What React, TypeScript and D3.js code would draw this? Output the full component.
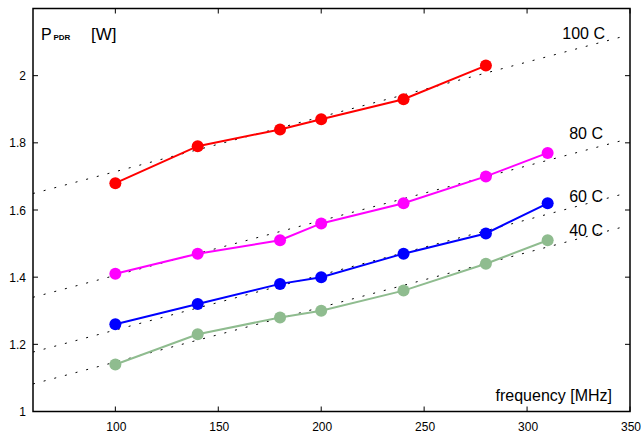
import React from "react";
import * as d3 from "d3";

const freqs = [100, 140, 180, 200, 240, 280, 310];
const seriesNames = ["100 C", "80 C", "60 C", "40 C"];
const seriesColors = ["#ff0000", "#ff00ff", "#0000ff", "#8fbc8f"];
const p100 = [1.68, 1.79, 1.84, 1.87, 1.93, 2.03];
const p80 = [1.41, 1.47, 1.51, 1.56, 1.62, 1.70, 1.77];
const p60 = [1.26, 1.32, 1.38, 1.40, 1.47, 1.53, 1.62];
const p40 = [1.14, 1.23, 1.28, 1.30, 1.36, 1.44, 1.51];
const fitFreqs = [60, 345];
const fit100 = [1.649, 2.114];
const fit80 = [1.340, 1.805];
const fit60 = [1.177, 1.645];
const fit40 = [1.082, 1.547];
const xTicks = [100, 150, 200, 250, 300, 350];
const yTicks = [1, 1.2, 1.4, 1.6, 1.8, 2];

const W = 641, H = 436;
const L = 33, R = 630, T = 8.5, B = 411.5;
const FONT = "'Liberation Sans', Arial, Helvetica, sans-serif";

export default function App() {
  const x = d3.scaleLinear().domain([60, 350]).range([L, R]);
  const y = d3.scaleLinear().domain([1, 2.2]).range([B, T]);
  const series = [p100, p80, p60, p40];
  const fits = [fit100, fit80, fit60, fit40];
  const line = d3.line<[number, number]>().x(d => x(d[0])).y(d => y(d[1]));
  const labelY = [2.11, 1.81, 1.625, 1.523];
  const labelX = [605, 603, 603, 603];

  return (
    <svg width={W} height={H} style={{ position: "absolute", left: 0, top: 0, background: "#fff" }} fontFamily={FONT}>
      <rect x={0} y={0} width={W} height={H} fill="#fff" />
      {/* fit lines */}
      {fits.map((f, i) => (
        <path key={"f" + i} d={line(fitFreqs.map((fr, j) => [fr, f[j]]) as [number, number][]) || ""}
          fill="none" stroke="#000" strokeWidth={1} strokeDasharray="2,9" />
      ))}
      {/* data lines */}
      {series.map((s, i) => (
        <g key={"s" + i}>
          <path d={line(s.map((v, j) => [freqs[j], v]) as [number, number][]) || ""}
            fill="none" stroke={seriesColors[i]} strokeWidth={2} />
          {s.map((v, j) => (
            <circle key={j} cx={x(freqs[j])} cy={y(v)} r={6} fill={seriesColors[i]} />
          ))}
        </g>
      ))}
      {/* series labels */}
      {seriesNames.map((n, i) => (
        <text key={"l" + i} x={labelX[i]} y={y(labelY[i])} textAnchor="end" fontSize={16} fill="#000">{n}</text>
      ))}
      {/* ticks */}
      {xTicks.map(t => (
        <g key={"xt" + t}>
          <line x1={x(t)} x2={x(t)} y1={B} y2={B - 5} stroke="#000" strokeWidth={1} />
          <line x1={x(t)} x2={x(t)} y1={T} y2={T + 5} stroke="#000" strokeWidth={1} />
          <text x={x(t) + 1} y={431} textAnchor="middle" fontSize={12} fill="#000">{t}</text>
        </g>
      ))}
      {yTicks.map(t => (
        <g key={"yt" + t}>
          <line x1={L} x2={L + 5} y1={y(t)} y2={y(t)} stroke="#000" strokeWidth={1} />
          <line x1={R} x2={R - 5} y1={y(t)} y2={y(t)} stroke="#000" strokeWidth={1} />
          <text x={26} y={y(t) + 4.5} textAnchor="end" fontSize={12} fill="#000">{t}</text>
        </g>
      ))}
      {/* frame */}
      <rect x={L} y={T} width={R - L} height={B - T} fill="none" stroke="#000" strokeWidth={1.5} />
      {/* axis titles */}
      <text x={612} y={401} textAnchor="end" fontSize={16} fill="#000">frequency [MHz]</text>
      <text x={41} y={39.5} fontSize={16} fill="#000">P</text>
      <text x={53.5} y={39.5} fontSize={8} fontWeight="bold" fill="#000">PDR</text>
      <text x={91} y={39.5} fontSize={17} fill="#000">[W]</text>
    </svg>
  );
}
